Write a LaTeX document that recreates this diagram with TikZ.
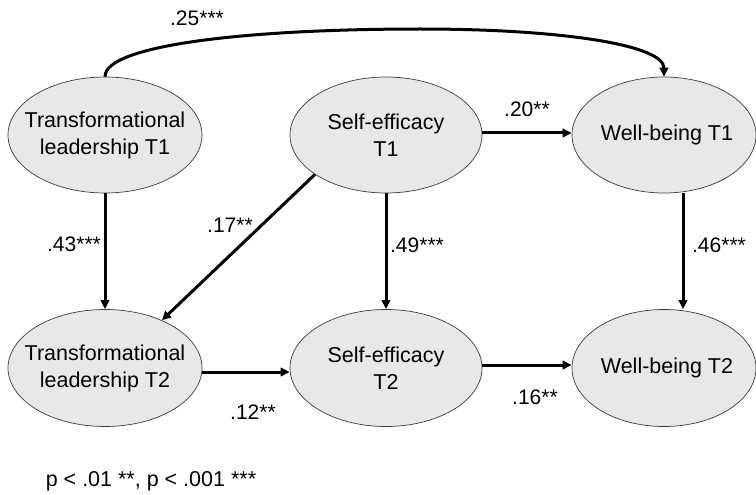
\documentclass[tikz,border=0pt]{standalone}
\usepackage{fontspec}
\setmainfont{Liberation Sans}
\usetikzlibrary{shapes.geometric,arrows.meta,calc}
\definecolor{ellfill}{RGB}{232,232,232}
\definecolor{ellline}{RGB}{60,60,60}
\begin{document}
\begin{tikzpicture}[x=1pt,y=-1pt,
  latent/.style={ellipse,draw=ellline,line width=0.7pt,fill=ellfill,inner sep=0pt,minimum height=116pt},
  nodetext/.style={align=center,font=\fontsize{21.5}{27}\selectfont,inner sep=0pt},
  arrowline/.style={line width=3pt,-{Triangle[length=9pt,width=8.5pt]}},
  coef/.style={font=\fontsize{21}{25}\selectfont,inner sep=0pt}]
\useasboundingbox (0,0) rectangle (756,495);
% latent variables
\node[latent,minimum width=194pt] (tl1) at (105,135) {};
\node[nodetext] (tl1t) at (tl1.center) {Transformational\\leadership T1};
\node[latent,minimum width=192pt] (se1) at (386,135) {};
\node[nodetext] (se1t) at (se1.center) {Self-efficacy\\T1};
\node[latent,minimum width=184pt] (wb1) at (664,135) {};
\node[nodetext] (wb1t) at ([xshift=3pt]wb1.center) {Well-being T1};
\node[latent,minimum width=194pt,minimum height=117pt] (tl2) at (105,368) {};
\node[nodetext] (tl2t) at (tl2.center) {Transformational\\leadership T2};
\node[latent,minimum width=192pt,minimum height=117pt] (se2) at (386,368) {};
\node[nodetext] (se2t) at (se2.center) {Self-efficacy\\T2};
\node[latent,minimum width=184pt,minimum height=117pt] (wb2) at (664,368) {};
\node[nodetext] (wb2t) at ([xshift=3pt]wb2.center) {Well-being T2};
% paths
\coordinate (ctop) at (420,29);
\draw[arrowline] (tl1.north) .. controls ($(tl1.north)+(0,-32)$) and (250,29) .. (ctop)
  .. controls (560,29) and ($(wb1.north)+(0,-32)$) .. (wb1.north);
\draw[arrowline] ([yshift=2pt]se1.east) -- ([yshift=2pt]wb1.west);
\draw[arrowline] (tl1) -- (tl2);
\draw[arrowline] (se1) -- (se2);
\draw[arrowline] ([xshift=19pt]wb1.south) -- ([xshift=19pt]wb2.north);
\draw[arrowline] (se1.209) -- (tl2.40);
\draw[arrowline] ([yshift=-4pt]tl2.east) -- ([yshift=-4pt]se2.west);
\draw[arrowline] ([yshift=3pt]se2.east) -- ([yshift=3pt]wb2.west);
% coefficients
\node[coef] (c25) at (197,18) {.25***};
\node[coef] (c20) at (527,109) {.20**};
\node[coef] (c43) at (74,244) {.43***};
\node[coef] (c17) at (230,225) {.17**};
\node[coef] (c49) at (417,245) {.49***};
\node[coef] (c46) at (719,245) {.46***};
\node[coef] (c12) at (253,412) {.12**};
\node[coef] (c16) at (535,397) {.16**};
\node[nodetext] (note) at (151,481) {p < .01 **, p < .001 ***};
\end{tikzpicture}
\end{document}
